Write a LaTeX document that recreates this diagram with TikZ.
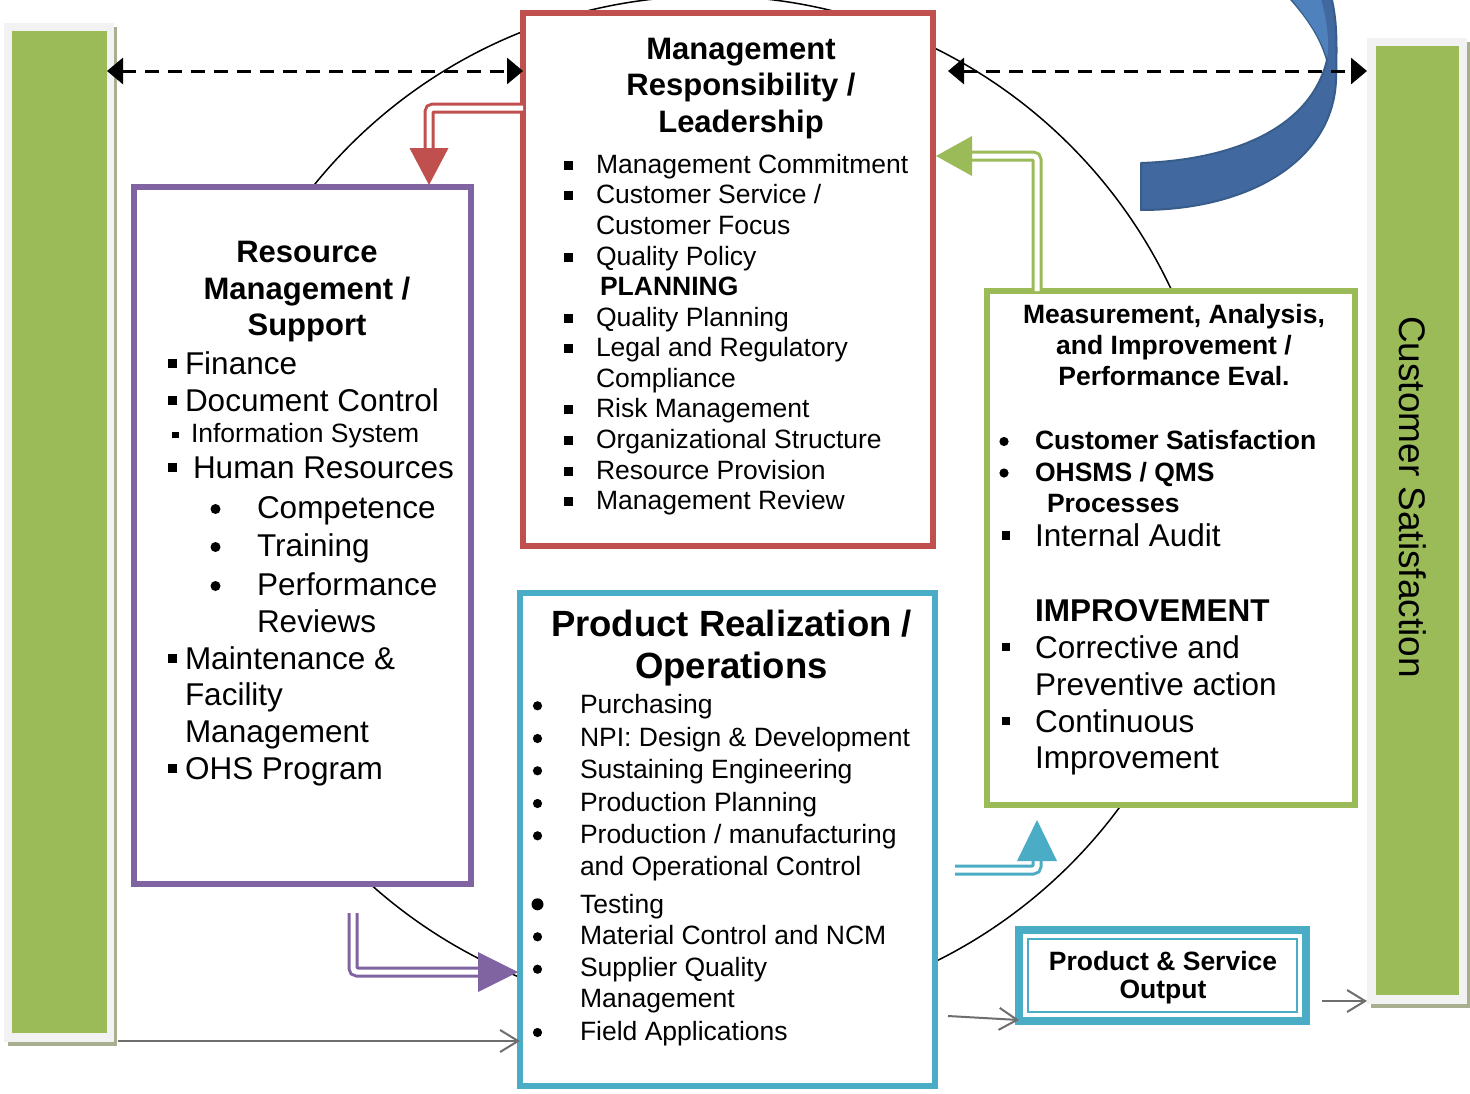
\documentclass[tikz,border=0pt]{standalone}
\usepackage{fontspec}
\setmainfont{Liberation Sans}
\usetikzlibrary{arrows.meta,calc}
\definecolor{cRed}{HTML}{C0504D}
\definecolor{cPur}{HTML}{8064A2}
\definecolor{cCya}{HTML}{4BACC6}
\definecolor{cGrn}{HTML}{9BBB59}
\definecolor{cBlu}{HTML}{4169A0}
\definecolor{cBluL}{HTML}{4F81BD}
\definecolor{cBluD}{HTML}{385D8A}
\definecolor{cFrm}{HTML}{F2F2F2}
\definecolor{cShd}{HTML}{A8AF90}
\definecolor{cGry}{HTML}{6E6E6E}
\begin{document}
\begin{tikzpicture}[x=1pt,y=-1pt,
 box/.style={rectangle,inner sep=0,outer sep=0,fill=white,line width=6pt},
 bar/.style={rectangle,inner sep=0,outer sep=0},
 tn/.style={inner sep=0,outer sep=0,anchor=base west,font=\fontsize{26.5}{30}\selectfont},
 tl/.style={inner sep=0,outer sep=0,anchor=base west,font=\fontsize{31.5}{36}\selectfont},
 tb/.style={inner sep=0,outer sep=0,anchor=base west,font=\bfseries\fontsize{26.5}{30}\selectfont},
 tbl/.style={inner sep=0,outer sep=0,anchor=base west,font=\bfseries\fontsize{31.5}{36}\selectfont},
 ttl/.style={inner sep=0,outer sep=0,anchor=base,font=\bfseries\fontsize{31}{36}\selectfont},
 ttls/.style={inner sep=0,outer sep=0,anchor=base,font=\bfseries\fontsize{26.5}{30}\selectfont},
 ttlb/.style={inner sep=0,outer sep=0,anchor=base,font=\bfseries\fontsize{36.5}{42}\selectfont},
 dbl/.style={line width=3pt,double=white,double distance=5pt,rounded corners=4pt},
 dasharr/.style={line width=3pt,dash pattern=on 14pt off 9pt,{Triangle[length=16pt,width=26pt]}-{Triangle[length=16pt,width=26pt]}},
 grayarr/.style={draw=cGry,line width=2pt,-{Straight Barb[length=18pt,width=22pt,line width=2pt]}},
]
\useasboundingbox (0,0) rectangle (1470,1093);
\fill[white] (0,0) rectangle (1470,1093);

% side bars
\fill[cShd] (8,27) rectangle (117,1046);
\node[bar,fill=cFrm,minimum width=110pt,minimum height=1019pt] (lframe) at (59,532.5) {};
\node[bar,fill=cGrn,minimum width=95pt,minimum height=1002pt] (lbar) at (59.5,532) {};
\fill[cShd] (1371,42) rectangle (1470,1008);
\node[bar,fill=cFrm,minimum width=100pt,minimum height=966pt] (rframe) at (1417,521) {};
\node[bar,fill=cGrn,minimum width=83pt,minimum height=949pt] (rbar) at (1417.5,520.5) {};
\node[inner sep=0,rotate=-90,font=\fontsize{37}{40}\selectfont] (cs) at (1413,497) {Customer Satisfaction};

% big circle
\draw[line width=1.5pt] (710,505) circle[radius=509pt];

% blue curved arrow
\filldraw[fill=cBlu,draw=cBluD,line width=2pt,line join=round]
 (1141,163) .. controls (1230,160) and (1310,130) .. (1327,60)
 .. controls (1320,35) and (1305,15) .. (1288,-4) -- (1331,-4)
 .. controls (1337,20) and (1337,40) .. (1336,80)
 .. controls (1333,160) and (1250,210) .. (1141,210) -- cycle;
\fill[cBluL] (1289,-4) .. controls (1305,15) and (1320,35) .. (1327,58)
 .. controls (1330,40) and (1326,15) .. (1320,-4) -- cycle;

% boxes
\node[box,draw=cRed,minimum width=410pt,minimum height=533pt] (red) at (728,279.5) {};
\node[box,draw=cPur,minimum width=337pt,minimum height=697pt] (purple) at (302.5,535.5) {};
\node[box,draw=cCya,minimum width=415pt,minimum height=493pt] (cyan) at (727.5,839.5) {};
\node[box,draw=cGrn,minimum width=368pt,minimum height=514pt] (green) at (1171,548) {};
\node[box,draw=cCya,line width=8pt,minimum width=287pt,minimum height=91pt] (prod) at (1162.5,975.5) {};
\draw[cCya,line width=2.4pt] ([shift={(9,9)}]prod.north west) rectangle ([shift={(-9,-9)}]prod.south east);

% red box text
\foreach \t/\y [count=\i] in {Management/59,{Responsibility /}/95.5,Leadership/132}
  \node[ttl] (rt\i) at (741,\y) {\t};
\foreach \t/\y [count=\i] in {{Management Commitment}/173,{Customer Service /}/203.8,{Customer Focus}/234.4,{Quality Policy}/265,{Quality Planning}/326,{Legal and Regulatory}/356.6,Compliance/387.2,{Risk Management}/417.8,{Organizational Structure}/448.4,{Resource Provision}/479,{Management Review}/509.6}
  \node[tn] (ri\i) at (596,\y) {\t};
\node[tb] (rplan) at (600,295.6) {PLANNING};
\foreach \y in {173,203.8,265,326,356.6,417.8,448.4,479,509.6}
  \fill (563.5,\y-12.5) rectangle (572.5,\y-3.5);

% purple box text
\foreach \t/\y [count=\i] in {Resource/262.5,{Management /}/299,Support/335.5}
  \node[ttl] (pt\i) at (307,\y) {\t};
\node[tl] (p1) at (185,374) {Finance};
\node[tl] (p2) at (185,411) {Document Control};
\node[tn] (p3) at (191,442) {Information System};
\node[tl] (p4) at (193,478) {Human Resources};
\node[tl] (p5) at (257,518) {Competence};
\node[tl] (p6) at (257,556) {Training};
\node[tl] (p7) at (257,595) {Performance};
\node[tl] (p8) at (257,632) {Reviews};
\node[tl] (p9) at (185,669) {Maintenance \&};
\node[tl] (p10) at (185,705) {Facility};
\node[tl] (p11) at (185,742) {Management};
\node[tl] (p12) at (185,779) {OHS Program};
\foreach \y in {374,411,478,669,779}
  \fill (168,\y-15) rectangle (176.5,\y-6.5);
\fill (172,442-10.5) rectangle (178.5,442-4);
\foreach \y in {518,556,595}
  \fill (215.5,\y-9) circle[radius=5pt];

% cyan box text
\node[ttlb] (ct1) at (731.5,636.5) {Product Realization /};
\node[ttlb] (ct2) at (731.5,678) {Operations};
\foreach \t/\y [count=\i] in {Purchasing/713.3,{NPI: Design \& Development}/746,{Sustaining Engineering}/778.3,{Production Planning}/811,{Production / manufacturing}/843.3,{and Operational Control}/875,Testing/913.3,{Material Control and NCM}/944.3,{Supplier Quality}/976.7,Management/1007.7,{Field Applications}/1040}
  \node[tn] (ci\i) at (580,\y) {\t};
\foreach \y in {713.3,746,778.3,811,843.3,944.3,976.7,1040}
  \fill (537.5,\y-7.5) circle[radius=4.6pt];
\fill (537.5,913.3-9) circle[radius=6pt];

% green box text
\foreach \t/\y [count=\i] in {{Measurement, Analysis,}/323.3,{and Improvement /}/354,{Performance Eval.}/385}
  \node[ttls] (gt\i) at (1174,\y) {\t};
\node[tb] (g1) at (1035,449.5) {Customer Satisfaction};
\node[tb] (g2) at (1035,481) {OHSMS / QMS};
\node[tb] (g3) at (1047,512) {Processes};
\node[tl] (g4) at (1035,546.5) {Internal Audit};
\node[tbl] (g5) at (1035,621) {IMPROVEMENT};
\node[tl] (g6) at (1035,658) {Corrective and};
\node[tl] (g7) at (1035,695) {Preventive action};
\node[tl] (g8) at (1035,732) {Continuous};
\node[tl] (g9) at (1035,768.5) {Improvement};
\foreach \y in {449.5,481}
  \fill (1004,\y-8) circle[radius=4.6pt];
\foreach \y in {546.5,658,732}
  \fill (1001.5,\y-15.5) rectangle (1010,\y-7);

% product box text
\node[ttls] (o1) at (1163,970) {Product \& Service};
\node[ttls] (o2) at (1163,998) {Output};

% double-line arrows
\coordinate (rtip) at (429,185);
\draw[cRed,dbl] (red.west |- 0,108) -| (429,149);
\fill[cRed] (409.5,148) -- (448.5,148) -- (rtip) -- cycle;

\coordinate (gtip) at (936,156);
\draw[cGrn,dbl] (green.north -| 1037,0) |- (971,156);
\fill[cGrn] (972,136) -- (972,176) -- (gtip) -- cycle;

\coordinate (pstart) at (353,913);
\coordinate (ptip) at (518,972);
\draw[cPur,dbl] (pstart) |- (479,972);
\fill[cPur] (478,952) -- (478,992) -- (ptip) -- cycle;

\coordinate (cstart) at (955,870);
\coordinate (ctip) at (1037,820);
\draw[cCya,dbl] (cstart) -| (1037,860);
\fill[cCya] (1017,861) -- (1057,861) -- (ctip) -- cycle;

% dashed double arrows
\draw[dasharr] (lbar.east |- 0,71) -- (red.west |- 0,71);
\coordinate (dstart) at (948,71);
\draw[dasharr] (dstart) -- (rframe.west |- 0,71);

% gray arrows
\draw[grayarr] ([xshift=4pt]lframe.east |- 0,1041) -- (cyan.west |- 0,1041);
\coordinate (gs2) at (948,1016);
\draw[grayarr] (gs2) -- (prod.west |- 0,1020);
\draw[grayarr] (prod.east |- 0,1001) ++(16,0) coordinate (gs3) -- (rframe.west |- 0,1001);
\end{tikzpicture}
\end{document}
